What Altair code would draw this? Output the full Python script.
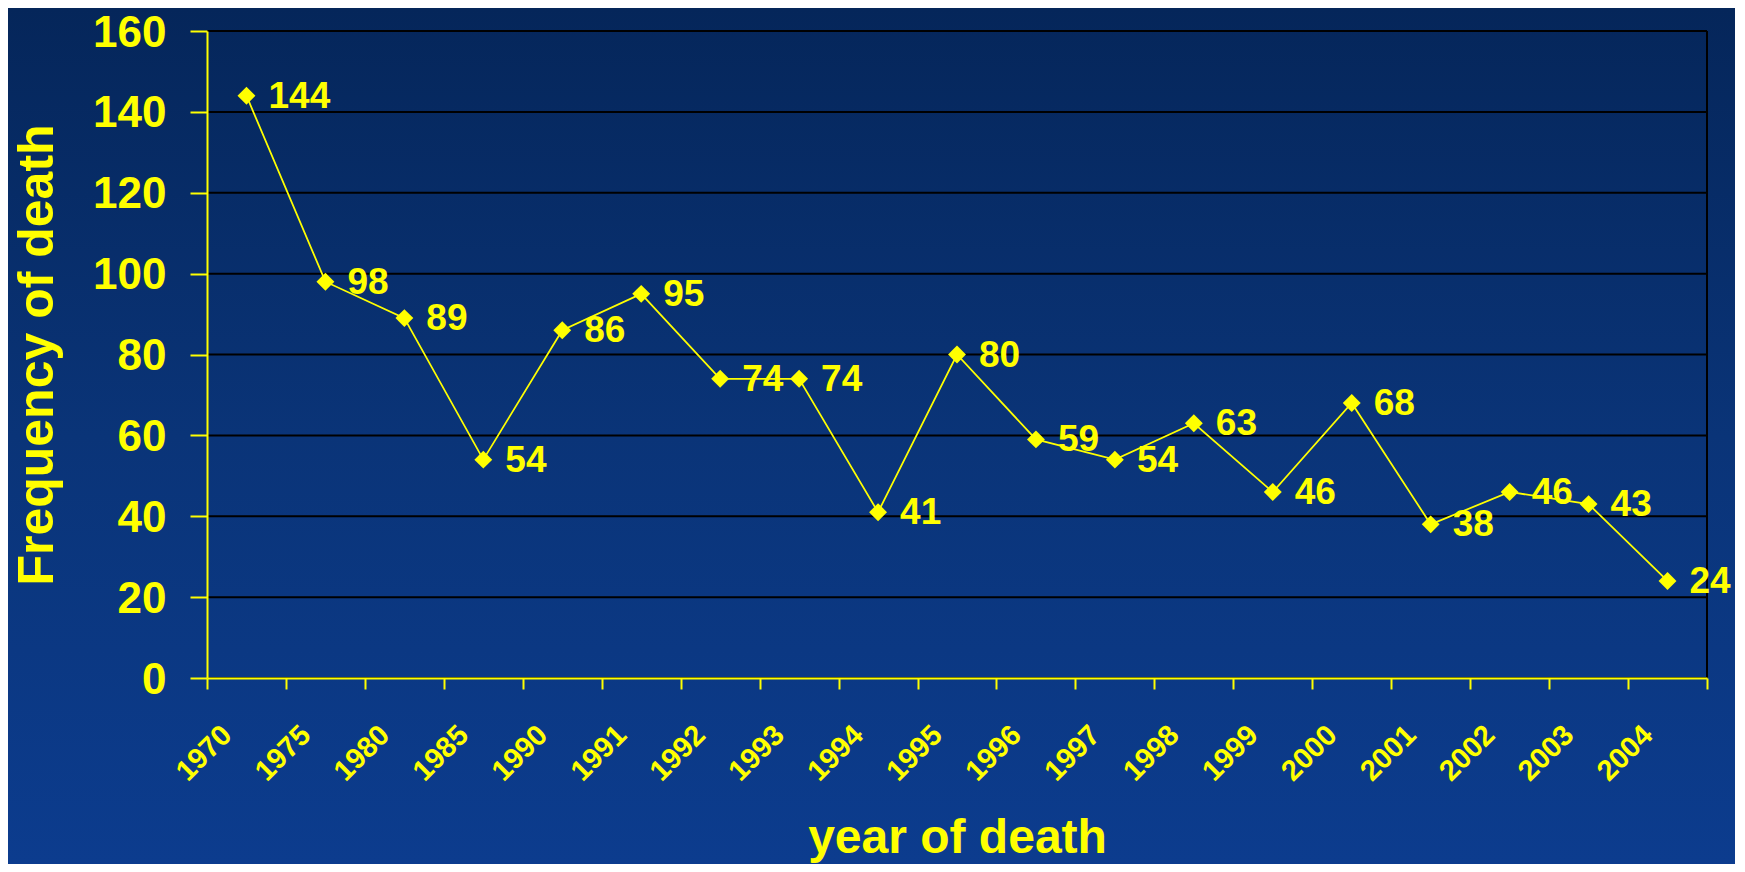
import altair as alt
import pandas as pd

years = ["1970", "1975", "1980", "1985", "1990", "1991", "1992", "1993", "1994",
         "1995", "1996", "1997", "1998", "1999", "2000", "2001", "2002", "2003", "2004"]
deaths = [144, 98, 89, 54, 86, 95, 74, 74, 41, 80, 59, 54, 63, 46, 68, 38, 46, 43, 24]
y_ticks = [0, 20, 40, 60, 80, 100, 120, 140, 160]

YELLOW = "#FFFF00"
FONT = "Liberation Sans"
W, H = 1500, 647
PAD = {"left": 199, "top": 23, "right": 28, "bottom": 186}

df = pd.DataFrame({"year": years, "deaths": deaths})
grid_df = pd.DataFrame({"v": y_ticks})
one = pd.DataFrame({"a": [0]})

x_enc = alt.X(
    "year:N", sort=years, bandPosition=0.5,
    scale=alt.Scale(type="band", paddingInner=0, paddingOuter=0),
    axis=alt.Axis(
        title="year of death", titleFontSize=48, titleFont=FONT, titleFontWeight="bold",
        titleColor=YELLOW, titleX=W / 2, titleY=174, titleAlign="center",
        titleBaseline="alphabetic", titleAnchor="middle",
        labelAngle=-45, labelAlign="right", labelBaseline="middle",
        labelFontSize=29, labelFont=FONT, labelFontWeight="bold", labelColor=YELLOW,
        labelOffset=-20, labelPadding=41, labelOverlap=False,
        tickSize=11, tickColor=YELLOW, tickWidth=2, tickBand="extent",
        domainColor=YELLOW, domainWidth=2, grid=False, zindex=1,
    ),
)
y_scale = alt.Scale(domain=[0, 160], nice=False)
y_enc = alt.Y(
    "deaths:Q", scale=y_scale,
    axis=alt.Axis(
        values=y_ticks, title="Frequency of death", titleFontSize=50, titleFont=FONT,
        titleFontWeight="bold", titleColor=YELLOW, titleAngle=-90, titleX=-155,
        titleY=H / 2, titleAlign="center", titleBaseline="alphabetic",
        labelFontSize=44, labelFont=FONT, labelFontWeight="bold", labelColor=YELLOW,
        labelPadding=24, labelOffset=2, labelBaseline="middle",
        tickSize=17, tickColor=YELLOW, tickWidth=2,
        domainColor=YELLOW, domainWidth=2, grid=False, zindex=1,
    ),
)

bg = alt.Chart(one).mark_rect(
    fill=alt.LinearGradient(
        gradient="linear", x1=0, y1=0, x2=0, y2=1,
        stops=[alt.GradientStop(color="#05265a", offset=0),
               alt.GradientStop(color="#0a3478", offset=0.5),
               alt.GradientStop(color="#0c3c8e", offset=1)],
    ),
    stroke=None,
).encode(
    x=alt.value(-PAD["left"]), x2=alt.value(W + PAD["right"]),
    y=alt.value(-PAD["top"]), y2=alt.value(H + PAD["bottom"]),
)

grid = alt.Chart(grid_df).mark_rule(color="black", strokeWidth=2).encode(
    y=alt.Y("v:Q", scale=y_scale),
    x=alt.value(0), x2=alt.value(W),
)

border = alt.Chart(one).mark_rule(color="black", strokeWidth=2).encode(
    x=alt.value(W), y=alt.value(0), y2=alt.value(H),
)

base = alt.Chart(df).encode(x=x_enc, y=y_enc)
line = base.mark_line(color=YELLOW, strokeWidth=1.75)
pts = base.mark_point(shape="diamond", filled=True, size=320, color=YELLOW, opacity=1)
labels = base.mark_text(
    align="left", baseline="middle", dx=22, dy=1, fontSize=37, font=FONT,
    fontWeight="bold", color=YELLOW,
).encode(text="deaths:Q")

chart = alt.layer(bg, grid, border, line, pts, labels).properties(
    width=W, height=H, padding=PAD,
    autosize=alt.AutoSizeParams(type="none"),
    background="#0a3478",
).configure_view(stroke=None)

chart.save("out.html", embed_options={"renderer": "svg", "actions": False})
